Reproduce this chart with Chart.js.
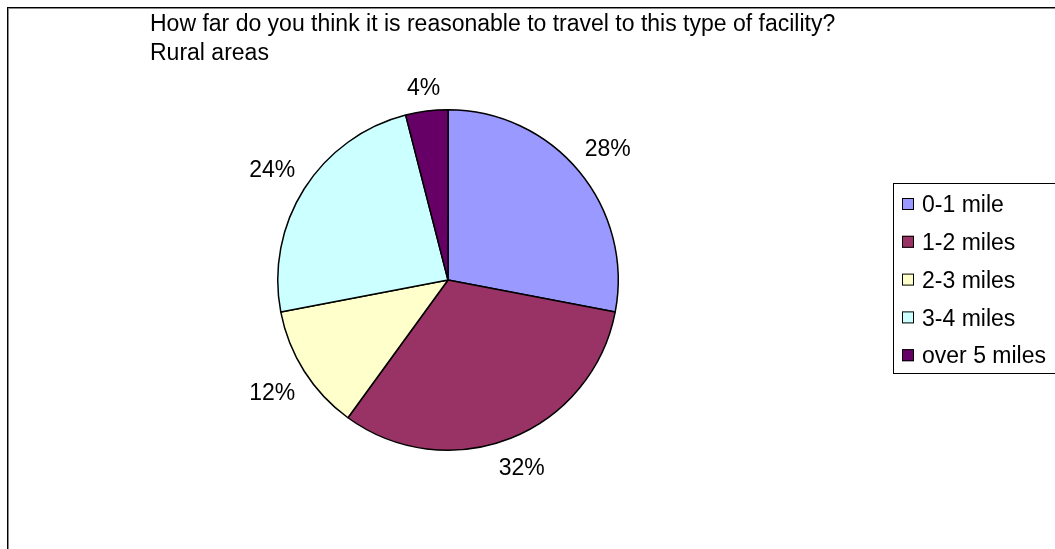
<!DOCTYPE html>
<html>
<head>
<meta charset="utf-8">
<title>Travel distance - rural areas</title>
<script src="https://cdn.jsdelivr.net/npm/chart.js@4.4.1/dist/chart.umd.min.js"></script>
<style>
  html, body { margin: 0; padding: 0; background: #fff; }
  #wrap { width: 1055px; height: 549px; position: relative; }
</style>
</head>
<body>
<div id="wrap"><canvas id="pie"></canvas></div>
<script>
// Survey answers (percent of respondents)
const distanceBands = ['0-1 mile', '1-2 miles', '2-3 miles', '3-4 miles', 'over 5 miles'];
const shareValues = [28, 32, 12, 24, 4];
const sliceColours = ['#9999FF', '#993366', '#FFFFCC', '#CCFFFF', '#660066'];
const titleLines = [
    'How far do you think it is reasonable to travel to this type of facility?',
    'Rural areas'
];

const FONT = '23px "Liberation Sans", Arial, sans-serif';
const CAP = 16.5; // approx cap height of FONT

// Frame, title, percent labels and the boxed legend
const decorations = {
    id: 'decorations',
    beforeDraw(chart) {
        const ctx = chart.ctx;
        ctx.save();
        ctx.strokeStyle = '#888';
        ctx.lineWidth = 1;
        ctx.strokeRect(8.5, 8.5, 1100, 600);
        ctx.strokeStyle = '#000';
        ctx.strokeRect(7.5, 7.5, 1100, 600);
        ctx.restore();
    },
    afterDraw(chart) {
        const ctx = chart.ctx;
        ctx.save();
        ctx.font = FONT;
        ctx.fillStyle = '#000';
        ctx.textBaseline = 'alphabetic';
        ctx.textAlign = 'left';
        ctx.fillText(titleLines[0], 150, 31);
        ctx.fillText(titleLines[1], 150, 60);

        // percentage labels just outside each slice, pushed out by half the text box
        const meta = chart.getDatasetMeta(0);
        ctx.textAlign = 'center';
        meta.data.forEach((arc, i) => {
            const p = arc.getProps(['x', 'y', 'startAngle', 'endAngle', 'outerRadius'], true);
            const mid = (p.startAngle + p.endAngle) / 2;
            const dx = Math.cos(mid), dy = Math.sin(mid);
            const text = shareValues[i] + '%';
            const w = ctx.measureText(text).width;
            const r = p.outerRadius + 14 + Math.abs(dx) * w / 2 + Math.abs(dy) * CAP / 2;
            ctx.fillText(text, p.x + dx * r, p.y + dy * r + CAP / 2);
        });

        // legend box
        const lx = 893, ly = 183, lw = 200, lh = 190;
        ctx.strokeStyle = '#000';
        ctx.lineWidth = 1;
        ctx.strokeRect(lx + 0.5, ly + 0.5, lw, lh);
        ctx.textAlign = 'left';
        distanceBands.forEach((label, i) => {
            const cy = 204 + i * 37.8;
            ctx.fillStyle = sliceColours[i];
            ctx.fillRect(902, cy - 6, 12, 12);
            ctx.strokeStyle = '#000';
            ctx.strokeRect(902.5, cy - 5.5, 11, 11);
            ctx.fillStyle = '#000';
            ctx.fillText(label, 922, cy + CAP / 2);
        });
        ctx.restore();
    }
};

new Chart(document.getElementById('pie'), {
    type: 'pie',
    data: {
        labels: distanceBands,
        datasets: [{
            data: shareValues,
            backgroundColor: sliceColours,
            borderColor: '#000',
            borderWidth: 1.5,
            borderAlign: 'center'
        }]
    },
    options: {
        responsive: true,
        maintainAspectRatio: false,
        animation: false,
        layout: { padding: { left: 277, right: 436, top: 109, bottom: 98 } },
        plugins: {
            legend: { display: false },
            title: { display: false },
            tooltip: { enabled: false }
        }
    },
    plugins: [decorations]
});
</script>
</body>
</html>
